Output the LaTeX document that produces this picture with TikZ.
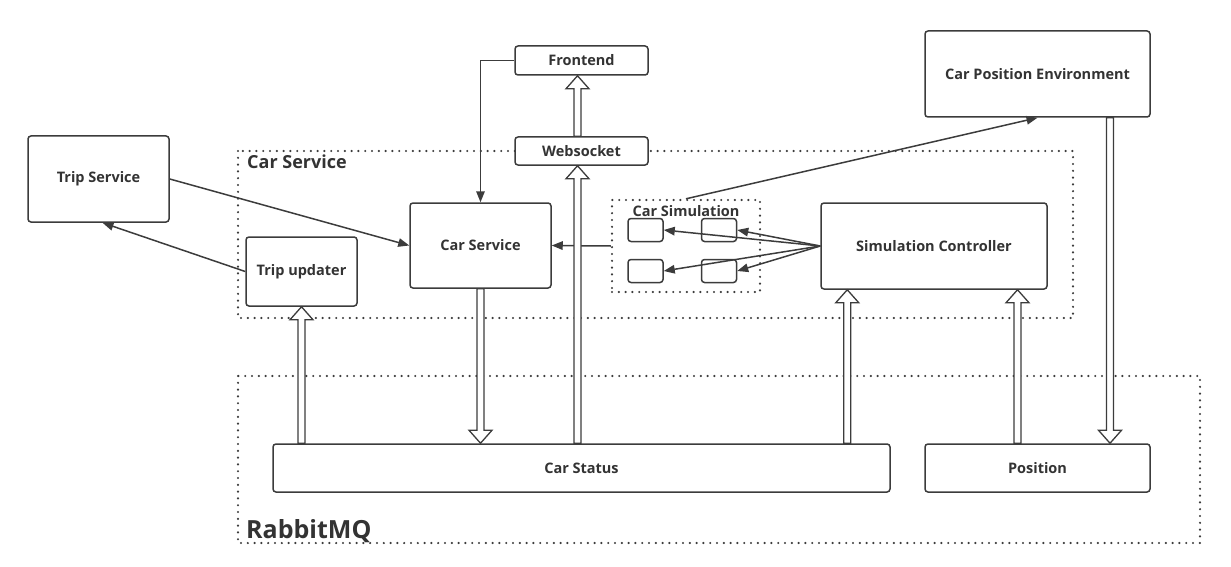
\documentclass[tikz,border=0pt]{standalone}
\usepackage{fontspec}
\setmainfont{Open Sans}
\usepackage{tikz}
\usetikzlibrary{arrows.meta,calc,positioning}
\usepackage{xcolor}
\definecolor{linegray}{HTML}{3C3C3C}
\definecolor{textgray}{HTML}{333333}
\tikzset{
  box/.style={draw=linegray,line width=1.5pt,rounded corners=3pt,fill=white,text=textgray,
    font=\bfseries\fontsize{14.5}{16}\selectfont,inner sep=0pt},
  group/.style={draw=linegray,line width=2.4pt,line cap=round,dash pattern=on 0pt off 6.8pt},
  grouplabel/.style={text=textgray,font=\bfseries\fontsize{18}{20}\selectfont,inner sep=0pt},
  conn/.style={draw=linegray,line width=1.5pt,-{Triangle[length=11pt,width=8.5pt]}},
  fat/.style={draw=linegray,line width=1.3pt,fill=white,line join=miter},
}
% hollow block arrow between two points on one vertical
\newcommand{\fatarrow}[2]{%
  \draw[fat] let \p1=#1, \p2=#2, \n1={\y2>\y1?1:-1} in
    (\x1-3.5pt,\y1) -- (\x1-3.5pt,\y2-\n1*13pt) -- (\x1-11.5pt,\y2-\n1*13pt) -- (\x1,\y2)
    -- (\x1+11.5pt,\y2-\n1*13pt) -- (\x1+3.5pt,\y2-\n1*13pt) -- (\x1+3.5pt,\y1) -- cycle;}

\begin{document}
\begin{tikzpicture}[x=1pt,y=-1pt]
  \useasboundingbox (0,0) rectangle (1231,567);
  % groups
  \draw[group] (238,151) rectangle (1073,318);
  \draw[group] (238,376) rectangle (1200,543);
  \node[grouplabel,anchor=base west] at (247,168) {Car Service};
  \node[grouplabel,anchor=base west,font=\bfseries\fontsize{25}{27}\selectfont] at (246,538) {RabbitMQ};
  \node[group,minimum width=148pt,minimum height=92pt] (carsim) at (686,246) {};
  \node[text=textgray,font=\bfseries\fontsize{14.5}{16}\selectfont,inner sep=0pt] at (686,211) {Car Simulation};
  % boxes
  \node[box,minimum width=133pt,minimum height=29pt] (frontend) at (581.5,60.5) {Frontend};
  \node[box,minimum width=133pt,minimum height=28pt] (websocket) at (581.5,151) {Websocket};
  \node[box,minimum width=141pt,minimum height=86pt] (tripsvc) at (98.5,179) {Trip Service};
  \node[box,minimum width=111pt,minimum height=69pt] (tripupd) at (301.5,271.5) {Trip updater};
  \node[box,minimum width=141pt,minimum height=85pt] (carsvc) at (480.5,245.5) {Car Service};
  \node[box,minimum width=226pt,minimum height=86pt] (simctrl) at (934,246) {Simulation Controller};
  \node[box,minimum width=225pt,minimum height=86pt] (cpe) at (1037.5,74) {Car Position Environment};
  \node[box,minimum width=617pt,minimum height=48pt] (carstatus) at (581.5,468) {Car Status};
  \node[box,minimum width=225pt,minimum height=48pt] (position) at (1037.5,468) {Position};
  \node[box,minimum width=35pt,minimum height=23pt] (carA) at (645.5,230) {};
  \node[box,minimum width=35pt,minimum height=23pt] (carB) at (719,230) {};
  \node[box,minimum width=35pt,minimum height=23pt] (carC) at (645.5,271) {};
  \node[box,minimum width=35pt,minimum height=23pt] (carD) at (719,271) {};
  % connectors
  \draw[conn] (frontend.west) -| (carsvc.north);
  \draw[conn] (tripsvc.east) -- (carsvc.west);
  \draw[conn] (tripupd.west) -- ($(tripsvc.south)+(4,0)$);
  \draw[conn] (carsim.west) -- (carsvc.east);
  \draw[conn] (carsim.north) -- (cpe.south);
  \foreach \c in {carA,carB,carC,carD}
    \draw[conn] (simctrl.west) -- (\c.east);
  % queues
  \fatarrow{($(websocket.north)+(-4,0)$)}{($(frontend.south)+(-4,0)$)}
  \fatarrow{(tripupd.south |- carstatus.north)}{(tripupd.south)}
  \fatarrow{(carsvc.south)}{(carsvc.south |- carstatus.north)}
  \fatarrow{($(websocket.south |- carstatus.north)+(-4,0)$)}{($(websocket.south)+(-4,0)$)}
  \fatarrow{($(simctrl.south west |- carstatus.north)+(27,0)$)}{($(simctrl.south west)+(27,0)$)}
  \fatarrow{($(position.north)+(-20,0)$)}{($(position.north |- simctrl.south)+(-20,0)$)}
  \fatarrow{($(cpe.south)+(72.5,0)$)}{($(cpe.south |- position.north)+(72.5,0)$)}
\end{tikzpicture}
\end{document}
